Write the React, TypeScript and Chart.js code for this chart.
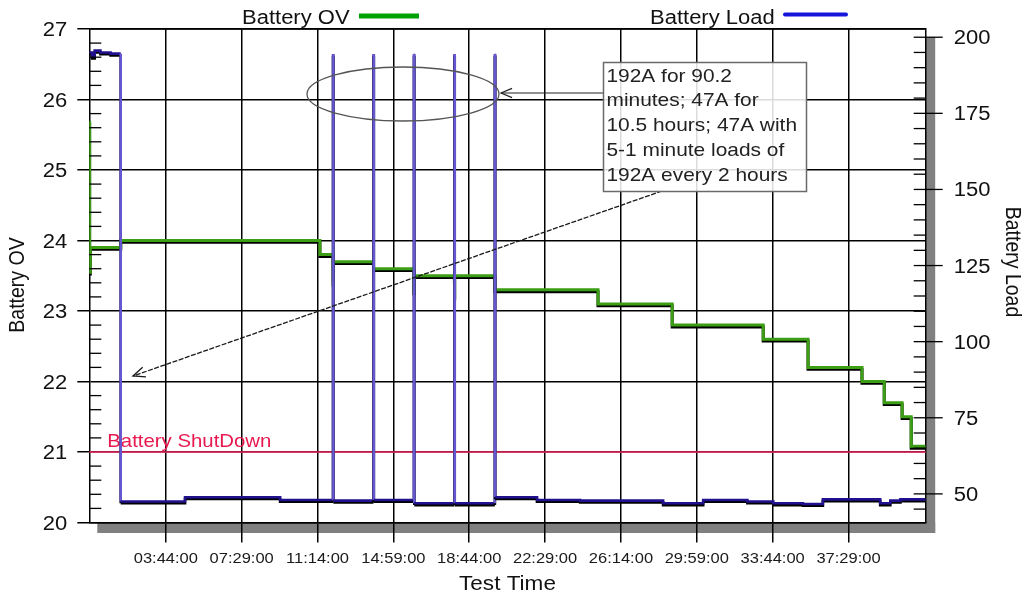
import React, { useEffect, useRef } from "react";
import { Chart, registerables } from "chart.js";

Chart.register(...registerables);

// ---- axis ranges ----
const X_MIN = -3; // minutes
const X_MAX = 2478;
const V_MIN = 20;
const V_MAX = 27;
const A_MIN = 40.6;
const A_MAX = 202.7;

// ---- tick labels ----
const X_TICK_MINUTES = [224, 449, 674, 899, 1124, 1349, 1574, 1799, 2024, 2249];
const X_TICK_LABELS = [
  "03:44:00", "07:29:00", "11:14:00", "14:59:00", "18:44:00",
  "22:29:00", "26:14:00", "29:59:00", "33:44:00", "37:29:00",
];
const VOLT_TICKS = [20, 21, 22, 23, 24, 25, 26, 27];
const AMP_TICKS = [50, 75, 100, 125, 150, 175, 200];

// ---- Battery OV: level start times (minutes) and the voltage held from then ----
const OV_MINUTES = [-3, -2, 0, 90.2, 681, 720, 721, 840, 960, 961, 1080, 1081, 1200, 1506, 1726, 1996, 2129, 2289, 2355, 2408, 2435, 2478];
const OV_VOLTS = [25.7, 23.55, 23.9, 24.0, 23.8, 23.37, 23.7, 23.6, 23.27, 23.5, 23.17, 23.5, 23.3, 23.1, 22.8, 22.6, 22.2, 22.0, 21.7, 21.5, 21.08, 21.08];

// ---- Battery Load: level start times (minutes) and the current held from then ----
const LOAD_MINUTES = [-3, 5, 13, 30, 60, 90.2, 281, 563, 720, 721, 840, 841, 960, 961, 1080, 1081, 1200, 1201, 1325, 1453, 1699, 1818, 1949, 2026, 2114, 2173, 2343, 2373, 2403, 2478];
const LOAD_AMPS = [195, 193.6, 195.6, 195, 194.6, 47.5, 48.9, 48.0, 194.5, 47.8, 194.5, 48.0, 194.5, 46.9, 194.5, 46.9, 194.5, 48.9, 48.0, 47.8, 46.9, 48.0, 47.5, 46.9, 46.7, 48.2, 46.9, 47.8, 48.2, 48.2];

const SHUTDOWN_VOLTS = 21;

const NOTE_LINES = [
  "192A for 90.2",
  "minutes; 47A for",
  "10.5 hours; 47A with",
  "5-1 minute loads of",
  "192A every 2 hours",
];

const FONT = '"Liberation Sans", Arial, sans-serif';
const SX = 1.1; // lettering is drawn slightly wide

function toSteps(ts: number[], vs: number[]) {
  const pts: { x: number; y: number }[] = [];
  for (let i = 0; i < ts.length - 1; i++) {
    pts.push({ x: ts[i], y: vs[i] });
    pts.push({ x: ts[i + 1], y: vs[i] });
  }
  return pts;
}

function text(
  ctx: CanvasRenderingContext2D,
  s: string,
  x: number,
  y: number,
  size: number,
  o: { align?: CanvasTextAlign; baseline?: CanvasTextBaseline; color?: string; rot?: number } = {}
) {
  ctx.save();
  ctx.translate(x, y);
  ctx.scale(SX, 1);
  if (o.rot) ctx.rotate(o.rot);
  ctx.font = `${size}px ${FONT}`;
  ctx.textAlign = o.align || "left";
  ctx.textBaseline = o.baseline || "alphabetic";
  ctx.fillStyle = o.color || "#111";
  ctx.fillText(s, 0, 0);
  ctx.restore();
}

function line(ctx: CanvasRenderingContext2D, x1: number, y1: number, x2: number, y2: number) {
  ctx.beginPath();
  ctx.moveTo(x1, y1);
  ctx.lineTo(x2, y2);
  ctx.stroke();
}

function arrowHead(ctx: CanvasRenderingContext2D, fx: number, fy: number, tx: number, ty: number, len: number) {
  const a = Math.atan2(ty - fy, tx - fx);
  const s = 0.4;
  ctx.beginPath();
  ctx.moveTo(tx - len * Math.cos(a - s), ty - len * Math.sin(a - s));
  ctx.lineTo(tx, ty);
  ctx.lineTo(tx - len * Math.cos(a + s), ty - len * Math.sin(a + s));
  ctx.stroke();
}

const lineShadow = {
  id: "lineShadow",
  beforeDatasetDraw(chart: any) {
    const ctx = chart.ctx;
    ctx.save();
    ctx.shadowColor = "#000";
    ctx.shadowOffsetX = 0;
    ctx.shadowOffsetY = 1.8;
    ctx.shadowBlur = 0;
  },
  afterDatasetDraw(chart: any) {
    chart.ctx.restore();
  },
};

const frame = {
  id: "frame",
  beforeDraw(chart: any) {
    const { ctx, chartArea: a } = chart;
    ctx.save();
    ctx.fillStyle = "#808080";
    ctx.fillRect(a.right, a.top + 8, 9.5, a.bottom - a.top + 2.5);
    ctx.fillRect(a.left + 8, a.bottom, a.right - a.left + 1.5, 10.5);
    ctx.restore();
  },
  beforeDatasetsDraw(chart: any) {
    const { ctx, chartArea: a, scales } = chart;
    const y = scales.yV.getPixelForValue(SHUTDOWN_VOLTS);
    ctx.save();
    ctx.strokeStyle = "#f0245e";
    ctx.lineWidth = 1.5;
    line(ctx, a.left, y, a.right, y);
    text(ctx, "Battery ShutDown", a.left + 18, y - 5, 18.5, { color: "#e8194f" });
    ctx.restore();
  },
  afterDraw(chart: any) {
    const { ctx, chartArea: a, scales } = chart;
    const xs = scales.x;
    const yv = scales.yV;
    const ya = scales.yA;
    ctx.save();

    // top edge of the plot box
    ctx.strokeStyle = "#000";
    ctx.lineWidth = 1.5;
    line(ctx, a.left, a.top, a.right, a.top);

    // minor ticks on the voltage axis
    ctx.lineWidth = 1.3;
    for (let v = V_MIN; v < V_MAX - 0.01; v += 0.2) {
      if (Math.abs(v - Math.round(v)) < 0.01) continue;
      const y = yv.getPixelForValue(v);
      line(ctx, a.left, y, a.left + 12, y);
    }
    // minor + major ticks on the load axis
    for (let v = 45; v <= 200; v += 5) {
      const y = ya.getPixelForValue(v);
      const major = AMP_TICKS.includes(v);
      line(ctx, a.right - 12, y, major ? a.right + 17 : a.right, y);
    }

    // tick labels
    VOLT_TICKS.forEach((v) => {
      text(ctx, String(v), a.left - 22, yv.getPixelForValue(v) + 7, 20, { align: "right" });
    });
    AMP_TICKS.forEach((v) => {
      text(ctx, String(v), a.right + 28, ya.getPixelForValue(v) + 7, 20);
    });
    X_TICK_MINUTES.forEach((m, i) => {
      text(ctx, X_TICK_LABELS[i], xs.getPixelForValue(m), a.bottom + 40.5, 15, { align: "center", color: "#1a1a1a" });
    });

    // axis titles
    text(ctx, "Test Time", (a.left + a.right) / 2, 590, 20.5, { align: "center" });
    text(ctx, "Battery OV", 18, 285, 19.5, { align: "center", baseline: "middle", rot: -Math.PI / 2 });
    text(ctx, "Battery Load", 1012, 262, 19.5, { align: "center", baseline: "middle", rot: Math.PI / 2 });

    // legend
    text(ctx, "Battery OV", 242, 24, 20);
    ctx.strokeStyle = "#00a000";
    ctx.lineWidth = 5;
    line(ctx, 359, 16, 419, 16);
    text(ctx, "Battery Load", 650, 24, 20);
    ctx.strokeStyle = "#1515dc";
    ctx.lineWidth = 4;
    ctx.lineCap = "round";
    line(ctx, 785, 14.5, 846, 14.5);
    ctx.lineCap = "butt";

    // ellipse round the pulse tops and its pointer from the note
    ctx.strokeStyle = "#555";
    ctx.lineWidth = 1.3;
    ctx.beginPath();
    ctx.ellipse(403, 94, 96, 27, 0, 0, Math.PI * 2);
    ctx.stroke();
    ctx.strokeStyle = "#222";
    ctx.lineWidth = 1.2;
    line(ctx, 603, 93, 501, 93);
    arrowHead(ctx, 603, 93, 501, 93, 12);

    // pointer to the first load drop
    ctx.strokeStyle = "#1a1a1a";
    ctx.lineWidth = 1.3;
    ctx.setLineDash([5, 1.5]);
    line(ctx, 662, 191, 133, 376);
    ctx.setLineDash([]);
    arrowHead(ctx, 662, 191, 133, 376, 13);

    // note box
    ctx.fillStyle = "rgba(255,255,255,0.86)";
    ctx.fillRect(603.5, 62.5, 203, 129);
    ctx.strokeStyle = "#6a6a6a";
    ctx.lineWidth = 1.5;
    ctx.strokeRect(603.5, 62.5, 203, 129);
    NOTE_LINES.forEach((s, i) => {
      text(ctx, s, 606.5, 81.5 + i * 24.8, 19, { color: "#222" });
    });

    ctx.restore();
  },
};

export default function App() {
  const ref = useRef<HTMLCanvasElement | null>(null);

  useEffect(() => {
    document.body.style.margin = "0";
    const canvas = ref.current;
    if (!canvas) return;

    const chart = new Chart(canvas, {
      type: "line",
      data: {
        datasets: [
          {
            label: "Battery OV",
            data: toSteps(OV_MINUTES, OV_VOLTS),
            xAxisID: "x",
            yAxisID: "yV",
            borderColor: "#3c9e14",
            borderWidth: 3,
            pointRadius: 0,
            tension: 0,
            order: 2,
          },
          {
            label: "Battery Load",
            data: toSteps(LOAD_MINUTES, LOAD_AMPS),
            xAxisID: "x",
            yAxisID: "yA",
            borderColor: "#22118f",
            borderWidth: 2.6,
            pointRadius: 0,
            tension: 0,
            order: 1,
            segment: {
              borderColor: (c: any) =>
                c.p0.parsed.x === c.p1.parsed.x && Math.abs(c.p0.parsed.y - c.p1.parsed.y) > 20
                  ? "#6457cf"
                  : undefined,
            },
          },
        ],
      },
      options: {
        responsive: false,
        animation: false,
        devicePixelRatio: 1,
        events: [],
        layout: { padding: { top: 29, left: 0, right: 0, bottom: 0 } },
        plugins: { legend: { display: false }, tooltip: { enabled: false } },
        scales: {
          x: {
            type: "linear",
            min: X_MIN,
            max: X_MAX,
            afterBuildTicks: (s: any) => {
              s.ticks = X_TICK_MINUTES.map((v) => ({ value: v }));
            },
            afterFit: (s: any) => {
              s.height = 74.5;
            },
            ticks: { display: false },
            grid: { color: "#000", lineWidth: 1.5, tickLength: 20, drawTicks: true },
            border: { color: "#000", width: 1.5 },
          },
          yV: {
            type: "linear",
            position: "left",
            min: V_MIN,
            max: V_MAX,
            afterBuildTicks: (s: any) => {
              s.ticks = VOLT_TICKS.map((v) => ({ value: v }));
            },
            afterFit: (s: any) => {
              s.width = 89.3;
            },
            ticks: { display: false },
            grid: { color: "#000", lineWidth: 1.5, tickLength: 12, drawTicks: true },
            border: { color: "#000", width: 1.5 },
          },
          yA: {
            type: "linear",
            position: "right",
            min: A_MIN,
            max: A_MAX,
            afterFit: (s: any) => {
              s.width = 98.3;
            },
            ticks: { display: false },
            grid: { display: false },
            border: { display: true, color: "#000", width: 1.5 },
          },
        },
      } as any,
      plugins: [lineShadow, frame],
    });

    return () => chart.destroy();
  }, []);

  return (
    <div style={{ position: "absolute", left: 0, top: 0, width: 1024, height: 597, background: "#fff" }}>
      <canvas ref={ref} width={1024} height={597} style={{ display: "block", width: 1024, height: 597 }} />
    </div>
  );
}
